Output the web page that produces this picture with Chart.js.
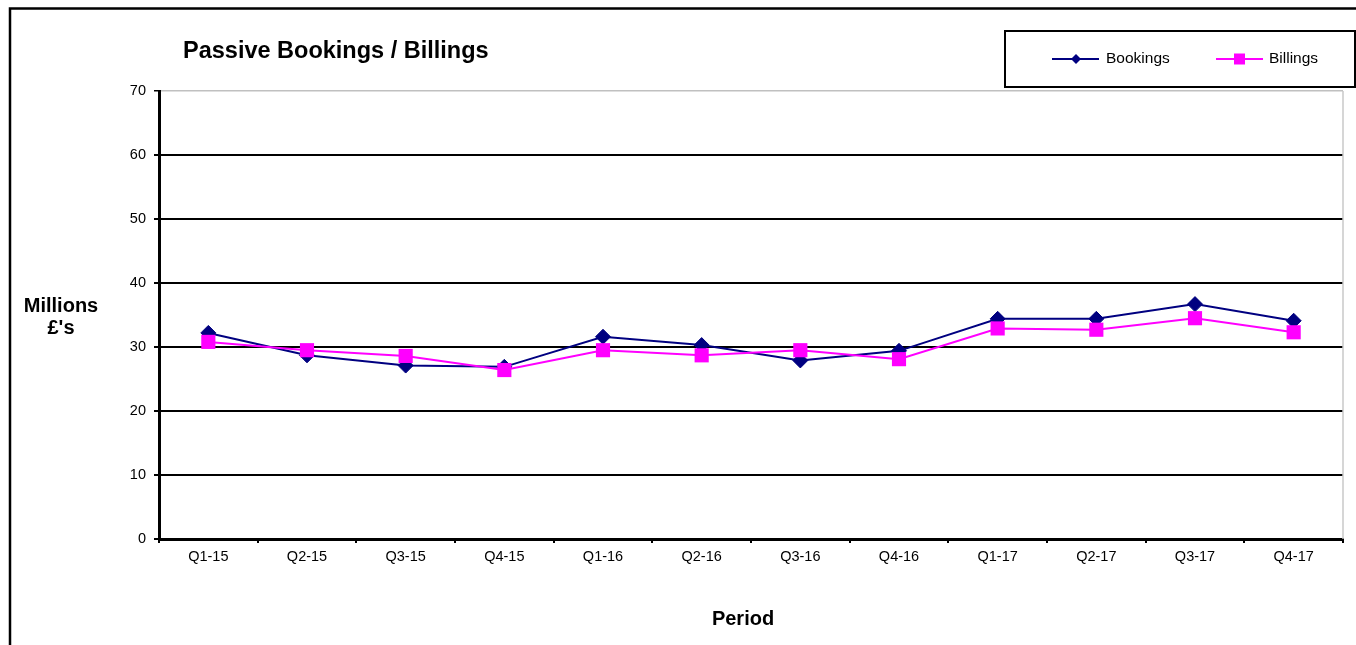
<!DOCTYPE html>
<html>
<head>
<meta charset="utf-8">
<script src="https://cdn.jsdelivr.net/npm/chart.js@4/dist/chart.umd.min.js"></script>
<style>
  html, body { margin: 0; padding: 0; background: #fff; }
  canvas { display: block; }
</style>
</head>
<body>
<canvas id="chart" width="1356" height="645"></canvas>
<script>
const periods = ['Q1-15', 'Q2-15', 'Q3-15', 'Q4-15', 'Q1-16', 'Q2-16', 'Q3-16', 'Q4-16', 'Q1-17', 'Q2-17', 'Q3-17', 'Q4-17'];
const bookings = [32.2, 28.7, 27.1, 26.9, 31.6, 30.3, 27.9, 29.4, 34.4, 34.4, 36.7, 34.1];
const billings = [30.8, 29.5, 28.6, 26.4, 29.5, 28.7, 29.5, 28.1, 32.9, 32.7, 34.5, 32.3];
const yTicks = [0, 10, 20, 30, 40, 50, 60, 70];

const FONT = '"Liberation Sans", Arial, sans-serif';
const NAVY = '#000080';
const PINK = '#ff00ff';

// frame, titles and legend box drawn around the chart
const framePlugin = {
  id: 'frame',
  beforeDraw(chart) {
    const ctx = chart.ctx;
    ctx.save();
    ctx.fillStyle = '#fff';
    ctx.fillRect(0, 0, chart.width, chart.height);
    ctx.restore();
  },
  afterDraw(chart) {
    const ctx = chart.ctx;
    const area = chart.chartArea;
    ctx.save();

    // outer border (top + left)
    ctx.strokeStyle = '#000';
    ctx.lineWidth = 2.5;
    ctx.beginPath();
    ctx.moveTo(10, 645);
    ctx.lineTo(10, 8.5);
    ctx.lineTo(1356, 8.5);
    ctx.stroke();

    // plot area right edge
    ctx.strokeStyle = '#c8c8c8';
    ctx.lineWidth = 1.5;
    ctx.beginPath();
    ctx.moveTo(area.right, area.top);
    ctx.lineTo(area.right, area.bottom);
    ctx.stroke();

    // title
    ctx.fillStyle = '#000';
    ctx.font = 'bold 23.5px ' + FONT;
    ctx.textAlign = 'left';
    ctx.textBaseline = 'alphabetic';
    ctx.fillText('Passive Bookings / Billings', 183, 58);

    // axis titles
    ctx.font = 'bold 20px ' + FONT;
    ctx.textAlign = 'center';
    ctx.fillText('Millions', 61, 312);
    ctx.fillText("£'s", 61, 334);
    ctx.fillText('Period', 743, 625);

    // legend
    ctx.strokeStyle = '#000';
    ctx.lineWidth = 2;
    ctx.strokeRect(1005, 31, 350, 56);

    const ly = 59;
    ctx.lineWidth = 2;
    ctx.strokeStyle = NAVY;
    ctx.beginPath();
    ctx.moveTo(1052, ly);
    ctx.lineTo(1099, ly);
    ctx.stroke();
    ctx.fillStyle = NAVY;
    ctx.beginPath();
    ctx.moveTo(1076, ly - 5);
    ctx.lineTo(1081, ly);
    ctx.lineTo(1076, ly + 5);
    ctx.lineTo(1071, ly);
    ctx.closePath();
    ctx.fill();

    ctx.strokeStyle = PINK;
    ctx.beginPath();
    ctx.moveTo(1216, ly);
    ctx.lineTo(1263, ly);
    ctx.stroke();
    ctx.fillStyle = PINK;
    ctx.fillRect(1234, ly - 5.5, 11, 11);

    ctx.fillStyle = '#000';
    ctx.font = '15.5px ' + FONT;
    ctx.textAlign = 'left';
    ctx.textBaseline = 'middle';
    ctx.fillText('Bookings', 1106, ly);
    ctx.fillText('Billings', 1269, ly);

    ctx.restore();
  }
};

new Chart(document.getElementById('chart'), {
  type: 'line',
  data: {
    labels: periods,
    datasets: [
      {
        label: 'Bookings',
        data: bookings,
        order: 1,
        borderColor: NAVY,
        backgroundColor: NAVY,
        borderWidth: 2,
        pointStyle: 'rectRot',
        pointRadius: 7.5,
        pointBorderWidth: 1,
        pointBorderColor: NAVY,
        pointBackgroundColor: NAVY,
        tension: 0
      },
      {
        label: 'Billings',
        data: billings,
        order: 0,
        borderColor: PINK,
        backgroundColor: PINK,
        borderWidth: 2,
        pointStyle: 'rect',
        pointRadius: 10,
        pointBorderWidth: 0,
        pointBackgroundColor: PINK,
        tension: 0
      }
    ]
  },
  options: {
    responsive: false,
    animation: false,
    layout: { padding: { left: 0, top: 91, right: 13, bottom: 0 } },
    plugins: {
      legend: { display: false },
      title: { display: false },
      tooltip: { enabled: false }
    },
    scales: {
      x: {
        offset: true,
        afterFit: s => { s.height = 106; },
        grid: {
          offset: true,
          drawOnChartArea: false,
          drawTicks: true,
          tickLength: 4,
          tickColor: '#000',
          lineWidth: 2
        },
        border: { display: true, color: '#000', width: 3 },
        ticks: {
          color: '#000',
          font: { family: FONT, size: 14.5 },
          padding: 5,
          maxRotation: 0,
          autoSkip: false
        }
      },
      y: {
        min: yTicks[0],
        max: yTicks[yTicks.length - 1],
        afterFit: s => { s.width = 159; },
        afterBuildTicks: s => { s.ticks = yTicks.map(v => ({ value: v })); },
        grid: {
          color: ctx => (ctx.tick && ctx.tick.value === 70 ? '#c0c0c0' : '#000'),
          lineWidth: ctx => (ctx.tick && ctx.tick.value === 70 ? 1.5 : 2),
          tickColor: '#000',
          tickLength: 5,
          drawTicks: true
        },
        border: { display: true, color: '#000', width: 3 },
        ticks: {
          color: '#000',
          font: { family: FONT, size: 14.5 },
          padding: 8
        }
      }
    }
  },
  plugins: [framePlugin]
});
</script>
</body>
</html>
